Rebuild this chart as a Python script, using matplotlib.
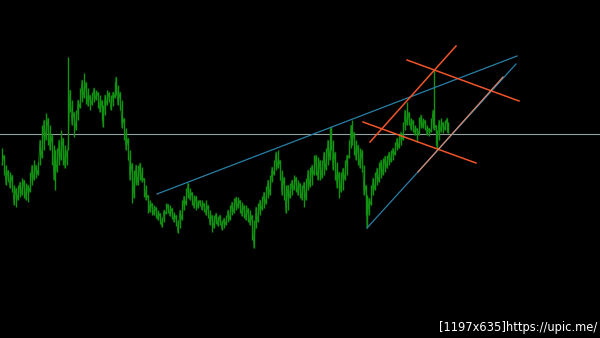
import matplotlib.pyplot as plt
import numpy as np

# bar position and high/low levels (screen units, y grows downward)
bar_x = [2, 4, 6, 8, 10, 12, 14, 16, 18, 20, 22, 24, 26, 28, 30, 32, 34, 36, 38, 40,
         42, 44, 46, 48, 50, 52, 54, 55, 57, 59, 61, 63, 65, 67, 68, 70, 72, 74, 76, 78,
         80, 82, 84, 86, 88, 90, 92, 94, 96, 98, 100, 102, 103, 105, 107, 109, 111, 113, 115, 116,
         118, 120, 122, 124, 126, 128, 130, 132, 134, 136, 138, 140, 142, 144, 146, 148, 150, 152, 154, 156,
         158, 160, 162, 164, 166, 168, 170, 172, 174, 176, 178, 180, 182, 184, 186, 188, 190, 192, 194, 196,
         198, 200, 202, 204, 206, 208, 210, 212, 214, 216, 218, 220, 222, 224, 226, 228, 230, 232, 234, 236,
         238, 240, 242, 244, 246, 248, 250, 252, 254, 256, 258, 260, 262, 264, 266, 268, 270, 272, 274, 276,
         278, 280, 282, 284, 286, 288, 290, 292, 294, 296, 298, 300, 302, 304, 306, 308, 310, 312, 314, 316,
         318, 320, 322, 324, 326, 328, 330, 331, 333, 335, 337, 339, 341, 343, 345, 347, 349, 351, 352, 354,
         356, 358, 360, 362, 364, 366, 367, 369, 371, 373, 375, 377, 379, 381, 383, 385, 387, 389, 391, 393,
         395, 397, 399, 401, 403, 405, 407, 409, 411, 413, 415, 417, 419, 421, 423, 425, 427, 429, 431, 433,
         434, 436, 437, 439, 441, 443, 445, 447, 448]
bar_high = [148, 155, 165, 170, 172, 175, 185, 188, 185, 182, 178, 180, 183, 185, 172, 165, 160, 165, 162, 140,
            125, 120, 113, 118, 125, 135, 145, 150, 148, 140, 130, 138, 145, 150, 57, 90, 100, 112, 110, 100,
            88, 80, 73, 82, 88, 95, 92, 88, 90, 92, 95, 100, 105, 95, 90, 92, 95, 92, 82, 77,
            85, 92, 100, 118, 128, 138, 150, 163, 170, 165, 165, 163, 167, 178, 185, 195, 200, 203, 205, 207,
            210, 213, 217, 210, 203, 204, 205, 208, 212, 215, 220, 210, 200, 196, 188, 183, 188, 192, 195, 196,
            200, 200, 200, 203, 200, 205, 210, 215, 215, 213, 216, 215, 220, 218, 215, 210, 205, 202, 198, 197,
            197, 200, 202, 205, 205, 208, 210, 215, 220, 207, 203, 200, 196, 192, 186, 180, 175, 167, 160, 152,
            150, 160, 170, 177, 185, 185, 183, 180, 175, 177, 180, 183, 185, 182, 178, 170, 167, 165, 155, 155,
            157, 160, 160, 152, 148, 140, 128, 127, 140, 152, 162, 172, 172, 168, 160, 155, 140, 125, 120, 132,
            140, 145, 148, 150, 165, 185, 195, 198, 185, 178, 172, 168, 162, 160, 158, 156, 155, 152, 150, 148,
            142, 138, 135, 132, 122, 110, 102, 112, 118, 120, 125, 128, 117, 115, 118, 120, 125, 128, 118, 110,
            70, 125, 130, 120, 118, 122, 120, 118, 122]
bar_low = [165, 175, 185, 182, 188, 192, 205, 207, 200, 197, 195, 198, 200, 202, 192, 185, 180, 178, 175, 165,
           158, 150, 140, 145, 150, 165, 180, 190, 172, 165, 160, 165, 168, 165, 150, 112, 125, 137, 130, 120,
           108, 102, 98, 104, 106, 110, 105, 102, 100, 108, 112, 120, 127, 115, 105, 102, 110, 106, 98, 95,
           105, 110, 128, 140, 150, 160, 180, 203, 198, 185, 185, 180, 182, 197, 200, 213, 212, 215, 215, 218,
           220, 224, 227, 222, 214, 213, 216, 219, 222, 226, 233, 228, 220, 210, 205, 198, 200, 205, 208, 210,
           208, 206, 210, 212, 215, 218, 225, 232, 228, 224, 226, 225, 230, 228, 225, 222, 220, 215, 213, 210,
           208, 213, 216, 218, 220, 222, 225, 240, 248, 228, 222, 215, 210, 208, 204, 198, 195, 182, 175, 170,
           168, 180, 195, 200, 213, 210, 198, 195, 190, 192, 195, 198, 200, 207, 200, 190, 187, 185, 175, 175,
           180, 180, 178, 175, 170, 165, 160, 150, 170, 180, 188, 198, 192, 190, 180, 175, 158, 148, 145, 155,
           160, 165, 168, 172, 195, 215, 228, 215, 205, 195, 190, 185, 182, 178, 175, 172, 168, 165, 162, 160,
           155, 150, 148, 145, 140, 130, 125, 125, 130, 132, 135, 142, 135, 128, 128, 130, 135, 136, 132, 128,
           130, 145, 148, 140, 132, 133, 130, 132, 133]

# level line and drawn objects (start x, start y, end x, end y)
level_y = 134
trend_blue = [(157, 194, 517, 56), (367, 228, 516, 64)]
trend_orange = [(370, 142, 456, 46), (407, 60, 519, 101), (363, 122, 476, 163)]
trend_salmon = [(418, 172, 503, 77)]

fig = plt.figure(figsize=(6, 3.38), dpi=100, facecolor='black')
ax = fig.add_axes([0, 0, 1, 1])
ax.set_facecolor('black')
ax.set_xlim(0, 600)
ax.set_ylim(338, 0)
ax.axis('off')

ax.axhline(level_y, color='#8fa3a3', lw=0.8)

green = '#129412'
ax.vlines(bar_x, bar_high, bar_low, color=green, lw=1.0)
zig = [h if i % 2 else l for i, (h, l) in enumerate(zip(bar_high, bar_low))]
ax.plot(bar_x, zig, color=green, lw=0.6)

for x0, y0, x1, y1 in trend_blue:
    ax.plot([x0, x1], [y0, y1], color='#2a7fa6', lw=0.9)
for x0, y0, x1, y1 in trend_orange:
    ax.plot([x0, x1], [y0, y1], color='#f0552a', lw=1.1)
for x0, y0, x1, y1 in trend_salmon:
    ax.plot([x0, x1], [y0, y1], color='#d9876a', lw=0.9)

ax.text(597, 327, '[1197x635]https://upic.me/', color='white', fontsize=8.3,
        ha='right', va='center')

fig.savefig('out.png', dpi=100, facecolor='black')
